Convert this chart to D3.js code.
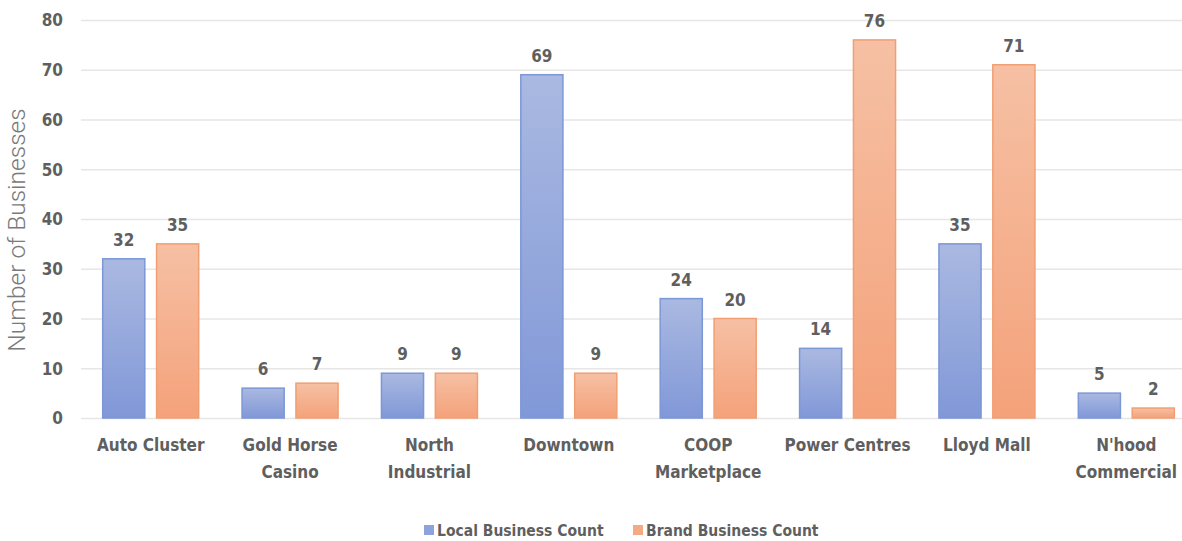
<!DOCTYPE html>
<html><head><meta charset="utf-8">
<script src="https://cdn.jsdelivr.net/npm/d3@7"></script>
<style>
html,body{margin:0;padding:0;background:#fff;}
svg{display:block;}
</style></head>
<body>
<svg id="chart" width="1182" height="541"></svg>
<script>
const categories = [["Auto Cluster"],["Gold Horse","Casino"],["North","Industrial"],["Downtown"],["COOP","Marketplace"],["Power Centres"],["Lloyd Mall"],["N'hood","Commercial"]];
const localCounts = [32, 6, 9, 69, 24, 14, 35, 5];
const brandCounts = [35, 7, 9, 9, 20, 76, 71, 2];
const seriesNames = ["Local Business Count", "Brand Business Count"];
const yTicks = [0, 10, 20, 30, 40, 50, 60, 70, 80];

const svg = d3.select("#chart");
const W = 1182, H = 541;
const m = {left: 81, right: -14, top: 20, bottom: 123};
const catFont = "'DejaVu Sans Condensed', 'DejaVu Sans', sans-serif";
const textColor = "#5f5f5f";

const x0 = d3.scaleBand().domain(d3.range(categories.length)).range([m.left, W - m.right]).paddingInner(0).paddingOuter(0);
const x1 = d3.scaleBand().domain([0,1]).range([0, 97]).paddingInner(0.2);
const y = d3.scaleLinear().domain([0, 80]).range([H - m.bottom, m.top]);

const defs = svg.append("defs");
function grad(id, top, bottom){
  const g = defs.append("linearGradient").attr("id", id).attr("x1",0).attr("y1",0).attr("x2",0).attr("y2",1);
  g.append("stop").attr("offset","0%").attr("stop-color", top);
  g.append("stop").attr("offset","100%").attr("stop-color", bottom);
}
grad("gBlue", "#aab9e1", "#8198d8");
grad("gOrange", "#f6c0a4", "#f4a27a");
const fills = ["url(#gBlue)", "url(#gOrange)"];
const strokes = ["#7b97d6", "#f19f72"];
const legendFills = ["#8ea3dc", "#f4ab85"];

// grid
svg.append("g").selectAll("line").data(yTicks).join("line")
  .attr("x1", m.left).attr("x2", W)
  .attr("y1", d => y(d) + 0.5).attr("y2", d => y(d) + 0.5)
  .attr("stroke", "#e6e6e6").attr("stroke-width", 1.5);

// y axis labels
const yAxis = d3.axisLeft(y).tickValues(yTicks).tickSize(0).tickPadding(0);
const ya = svg.append("g").attr("transform", `translate(63,0)`).call(yAxis);
ya.select(".domain").remove();
ya.selectAll("text").attr("font-family", catFont).attr("font-weight", "bold")
  .attr("font-size", "17px").attr("fill", textColor).attr("dy", "0.35em");

// y title
svg.append("text").attr("transform", `translate(25,230) rotate(-90)`)
  .attr("text-anchor", "middle").attr("font-family", "Roboto, sans-serif").attr("font-weight", 300)
  .attr("font-size", "24.5px").attr("fill", "#7a7a7a").text("Number of Businesses");

// bars
const data = categories.map((c, i) => ({i, vals: [localCounts[i], brandCounts[i]]}));
const groups = svg.append("g").selectAll("g").data(data).join("g")
  .attr("transform", d => `translate(${x0(d.i) + (x0.bandwidth() - 97)/2},0)`);
groups.selectAll("rect").data(d => d.vals.map((v, s) => ({v, s}))).join("rect")
  .attr("x", d => x1(d.s) + 0.5).attr("width", x1.bandwidth() - 1)
  .attr("y", d => y(d.v)).attr("height", d => y(0) - y(d.v))
  .attr("fill", d => fills[d.s]).attr("stroke", d => strokes[d.s]).attr("stroke-width", 1.5);
groups.selectAll("text.val").data(d => d.vals.map((v, s) => ({v, s}))).join("text")
  .attr("class", "val")
  .attr("x", d => x1(d.s) + x1.bandwidth()/2).attr("y", d => y(d.v) - 13)
  .attr("text-anchor", "middle").attr("font-family", catFont).attr("font-weight", "bold")
  .attr("font-size", "17px").attr("fill", textColor).text(d => d.v);

// category labels
const xa = svg.append("g");
categories.forEach((lines, i) => {
  const t = xa.append("text").attr("x", x0(i) + x0.bandwidth()/2).attr("y", 451)
    .attr("text-anchor", "middle").attr("font-family", catFont).attr("font-weight", "bold")
    .attr("font-size", "17px").attr("fill", textColor);
  lines.forEach((l, k) => t.append("tspan").attr("x", x0(i) + x0.bandwidth()/2).attr("dy", k ? 27 : 0).text(l));
});

// legend
const lg = svg.append("g");
const legendX = [424, 633];
seriesNames.forEach((n, s) => {
  lg.append("rect").attr("x", legendX[s]).attr("y", 525).attr("width", 10).attr("height", 10)
    .attr("fill", legendFills[s]);
  lg.append("text").attr("x", legendX[s] + 13).attr("y", 536)
    .attr("font-family", catFont).attr("font-weight", "bold").attr("font-size", "15.5px")
    .attr("fill", textColor).text(n);
});
</script>
</body></html>
